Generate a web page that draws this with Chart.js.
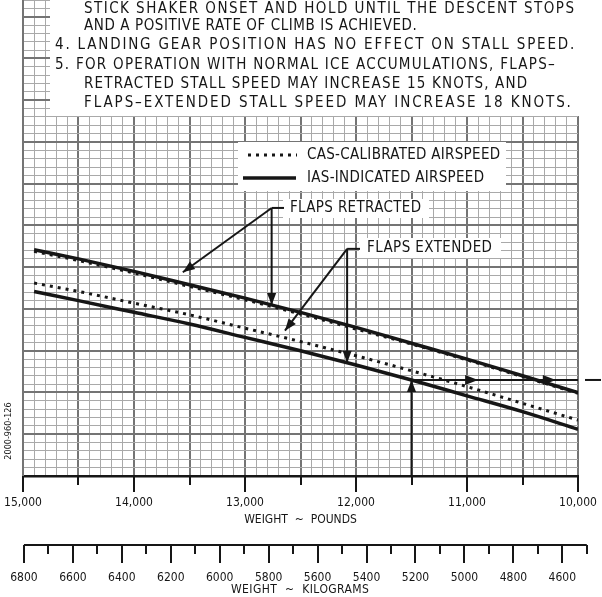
<!DOCTYPE html>
<html>
<head>
<meta charset="utf-8">
<script src="https://cdn.jsdelivr.net/npm/chart.js@4.4.1/dist/chart.umd.min.js"></script>
<style>
  html, body { margin: 0; padding: 0; background: #fff; }
</style>
</head>
<body>
<canvas id="chStall" width="602" height="597"></canvas>
<script>
// stall speed vs weight (knots, no y labels shown)
var weights = [14900, 14500, 14000, 13500, 13000, 12500, 12000, 11500, 11000, 10500, 10000];
var retractedIAS = [97.1, 96.0, 94.5, 92.9, 91.3, 89.6, 87.8, 85.9, 84.0, 82.0, 80.0];
var retractedCAS = [96.9, 95.8, 94.3, 92.7, 91.1, 89.4, 87.6, 85.8, 83.9, 81.9, 79.9];
var extendedCAS = [93.1, 92.1, 90.7, 89.3, 87.7, 86.1, 84.4, 82.6, 80.7, 78.7, 76.7];
var extendedIAS = [92.1, 91.0, 89.6, 88.2, 86.6, 85.0, 83.3, 81.5, 79.6, 77.7, 75.6];

var lbLabels = [15000, 14000, 13000, 12000, 11000, 10000];
var kgLabels = [6800, 6600, 6400, 6200, 6000, 5800, 5600, 5400, 5200, 5000, 4800, 4600];
var kgMin = 4500, kgMax = 6800;
var exampleWeight = 11500;

var notes = [
  'STICK SHAKER ONSET AND HOLD UNTIL THE DESCENT STOPS',
  'AND A POSITIVE RATE OF CLIMB IS ACHIEVED.',
  '4. LANDING GEAR POSITION HAS NO EFFECT ON STALL SPEED.',
  '5. FOR OPERATION WITH NORMAL ICE ACCUMULATIONS, FLAPS\u2013',
  'RETRACTED STALL SPEED MAY INCREASE 15 KNOTS, AND',
  'FLAPS\u2013EXTENDED STALL SPEED MAY INCREASE 18 KNOTS.'
];
// x start, x end, y middle for each note line
var notePos = [[84, 574, 9], [84, 417, 26], [55, 574, 45], [55, 555, 65], [84, 527, 84], [84, 571, 103]];

var INK = '#161616';
var FONT = '"Liberation Sans Narrow", "DejaVu Sans Condensed", "DejaVu Sans", sans-serif';

function pts(arr) {
  return weights.map(function (w, i) { return { x: w, y: arr[i] }; });
}

// linear read of a series at a weight
function valueAt(arr, w) {
  for (var i = 0; i < weights.length - 1; i++) {
    var a = weights[i], b = weights[i + 1];
    if (w <= a && w >= b) return arr[i] + (arr[i + 1] - arr[i]) * (a - w) / (a - b);
  }
  return arr[arr.length - 1];
}

function fitText(ctx, str, x1, x2, y) {
  ctx.letterSpacing = '0px';
  var w = ctx.measureText(str).width;
  var sp = str.length > 1 ? (x2 - x1 - w) / (str.length - 1) : 0;
  ctx.letterSpacing = sp.toFixed(2) + 'px';
  ctx.textAlign = 'left';
  ctx.textBaseline = 'middle';
  ctx.fillText(str, x1, y);
  ctx.letterSpacing = '0px';
}

function head(ctx, x1, y1, x2, y2, len) {
  var a = Math.atan2(y2 - y1, x2 - x1), w = len * 0.38;
  ctx.beginPath();
  ctx.moveTo(x2, y2);
  ctx.lineTo(x2 - len * Math.cos(a) + w * Math.sin(a), y2 - len * Math.sin(a) - w * Math.cos(a));
  ctx.lineTo(x2 - len * Math.cos(a) - w * Math.sin(a), y2 - len * Math.sin(a) + w * Math.cos(a));
  ctx.closePath();
  ctx.fill();
}

function arrow(ctx, x1, y1, x2, y2) {
  ctx.beginPath();
  ctx.moveTo(x1, y1);
  ctx.lineTo(x2, y2);
  ctx.stroke();
  head(ctx, x1, y1, x2, y2, 12);
}

var decor = {
  id: 'decor',
  afterDraw: function (chart) {
    var ctx = chart.ctx, xs = chart.scales.x, ys = chart.scales.y, area = chart.chartArea;
    var X = function (w) { return xs.getPixelForValue(w); };
    var Y = function (v) { return ys.getPixelForValue(v); };
    ctx.save();

    // notes panel over the top of the grid
    ctx.fillStyle = '#fff';
    ctx.fillRect(50, 0, 602 - 50, 116);
    ctx.fillStyle = INK;
    ctx.font = '15px ' + FONT;
    notes.forEach(function (t, i) { fitText(ctx, t, notePos[i][0], notePos[i][1], notePos[i][2]); });

    // weight (lb) tick marks
    ctx.strokeStyle = INK;
    ctx.lineWidth = 2;
    for (var w = 10000; w <= 15000; w += 500) {
      var len = w % 1000 === 0 ? 16 : 9;
      ctx.beginPath();
      ctx.moveTo(Math.round(X(w)), area.bottom);
      ctx.lineTo(Math.round(X(w)), area.bottom + len);
      ctx.stroke();
    }

    // kilogram scale, mapped through the pound scale
    var kgY = 545;
    var kx = function (kg) { return X(kg * 2.20462); };
    ctx.beginPath();
    ctx.moveTo(kx(kgMax), kgY);
    ctx.lineTo(kx(kgMin), kgY);
    ctx.stroke();
    for (var kg = kgMin; kg <= kgMax; kg += 100) {
      var L = kg % 200 === 0 ? 18 : 9;
      ctx.beginPath();
      ctx.moveTo(Math.round(kx(kg)), kgY);
      ctx.lineTo(Math.round(kx(kg)), kgY + L);
      ctx.stroke();
    }
    ctx.fillStyle = INK;
    ctx.font = '12px ' + FONT;
    ctx.textAlign = 'center';
    ctx.textBaseline = 'middle';
    kgLabels.forEach(function (kg) { ctx.fillText(String(kg), kx(kg), 578); });
    fitText(ctx, 'WEIGHT  ~  KILOGRAMS', 231, 369, 590);

    // drawing number
    ctx.save();
    ctx.translate(9, 431);
    ctx.rotate(-Math.PI / 2);
    ctx.font = '9px ' + FONT;
    ctx.textAlign = 'center';
    ctx.textBaseline = 'middle';
    ctx.fillText('2000-960-126', 0, 0);
    ctx.restore();

    // legend box
    ctx.fillStyle = '#fff';
    ctx.fillRect(238, 142, 268, 49);
    ctx.strokeStyle = INK;
    ctx.lineWidth = 3;
    ctx.setLineDash([3, 5]);
    ctx.beginPath(); ctx.moveTo(248, 155); ctx.lineTo(297, 155); ctx.stroke();
    ctx.setLineDash([]);
    ctx.lineWidth = 3.5;
    ctx.beginPath(); ctx.moveTo(243, 178); ctx.lineTo(296, 178); ctx.stroke();
    ctx.fillStyle = INK;
    ctx.font = '15px ' + FONT;
    fitText(ctx, 'CAS-CALIBRATED AIRSPEED', 307, 500, 155);
    fitText(ctx, 'IAS-INDICATED AIRSPEED', 307, 484, 178);

    // flaps labels
    ctx.fillStyle = '#fff';
    ctx.fillRect(283, 199, 146, 19);
    ctx.fillRect(359, 238, 142, 20);
    ctx.fillStyle = INK;
    fitText(ctx, 'FLAPS RETRACTED', 290, 421, 208);
    fitText(ctx, 'FLAPS EXTENDED', 367, 492, 248);

    ctx.strokeStyle = INK;
    ctx.fillStyle = INK;
    ctx.lineWidth = 2;
    // retracted leaders
    var rW = 12760, rK = 102.1;
    ctx.beginPath(); ctx.moveTo(X(rW), Y(rK)); ctx.lineTo(284, Y(rK)); ctx.stroke();
    arrow(ctx, X(rW), Y(rK), X(13560), Y(94.4));
    arrow(ctx, X(rW), Y(rK), X(rW), Y(valueAt(retractedIAS, rW)));
    // extended leaders
    var eW = 12080, eK = 97.2;
    ctx.beginPath(); ctx.moveTo(X(eW), Y(eK)); ctx.lineTo(360, Y(eK)); ctx.stroke();
    arrow(ctx, X(eW), Y(eK), X(12640), Y(87.4));
    arrow(ctx, X(eW), Y(eK), X(eW), Y(valueAt(extendedIAS, eW)));

    // example: 11,500 lb up to flaps extended IAS, then across
    var ev = valueAt(extendedIAS, exampleWeight);
    arrow(ctx, X(exampleWeight), area.bottom, X(exampleWeight), Y(ev));
    ctx.beginPath(); ctx.moveTo(X(exampleWeight), Y(ev)); ctx.lineTo(X(10000), Y(ev)); ctx.stroke();
    head(ctx, X(11500), Y(ev), X(10900), Y(ev), 13);
    head(ctx, X(11500), Y(ev), X(10200), Y(ev), 13);
    ctx.beginPath(); ctx.moveTo(585, Y(ev)); ctx.lineTo(601, Y(ev)); ctx.stroke();

    ctx.restore();
  }
};

var gridMinor = '#a9a9a9', gridMajor = '#747474';

new Chart(document.getElementById('chStall'), {
  type: 'line',
  data: {
    datasets: [
      { label: 'Flaps retracted IAS', data: pts(retractedIAS), borderColor: INK, borderWidth: 3.5 },
      { label: 'Flaps retracted CAS', data: pts(retractedCAS), borderColor: INK, borderWidth: 3, borderDash: [3, 5] },
      { label: 'Flaps extended CAS', data: pts(extendedCAS), borderColor: INK, borderWidth: 3, borderDash: [3, 5] },
      { label: 'Flaps extended IAS', data: pts(extendedIAS), borderColor: INK, borderWidth: 3.5 }
    ]
  },
  options: {
    responsive: false,
    animation: false,
    devicePixelRatio: 1,
    layout: { autoPadding: false, padding: { left: 23, right: 24, top: 0, bottom: 70 } },
    elements: {
      point: { radius: 0 },
      line: { cubicInterpolationMode: 'monotone', fill: false }
    },
    plugins: { legend: { display: false }, tooltip: { enabled: false } },
    scales: {
      x: {
        type: 'linear',
        reverse: true,
        min: 10000,
        max: 15000,
        afterFit: function (s) { s.height = 51; s.paddingLeft = 0; s.paddingRight = 0; },
        ticks: {
          stepSize: 100,
          autoSkip: false,
          maxRotation: 0,
          padding: 20,
          color: INK,
          font: { family: FONT, size: 12 },
          callback: function (v) { return lbLabels.indexOf(v) >= 0 ? v.toLocaleString('en-US') : ''; }
        },
        grid: {
          drawTicks: false,
          color: function (c) { return c.tick && c.tick.value % 500 === 0 ? gridMajor : gridMinor; },
          lineWidth: function (c) { return c.tick && c.tick.value % 500 === 0 ? 2 : 1; }
        },
        border: { display: true, color: INK, width: 2.5 },
        title: {
          display: true,
          text: 'WEIGHT  ~  POUNDS',
          color: INK,
          font: { family: FONT, size: 12 },
          padding: 0
        }
      },
      y: {
        min: 70,
        max: 127,
        afterFit: function (s) { s.width = 0; s.paddingTop = 0; s.paddingBottom = 0; },
        ticks: { stepSize: 1, display: false },
        grid: {
          drawTicks: false,
          color: function (c) { return c.tick && c.tick.value % 5 === 0 ? gridMajor : gridMinor; },
          lineWidth: function (c) { return c.tick && c.tick.value % 5 === 0 ? 2 : 1; }
        },
        border: { display: true, color: gridMajor, width: 2 }
      }
    }
  },
  plugins: [decor]
});
</script>
</body>
</html>
